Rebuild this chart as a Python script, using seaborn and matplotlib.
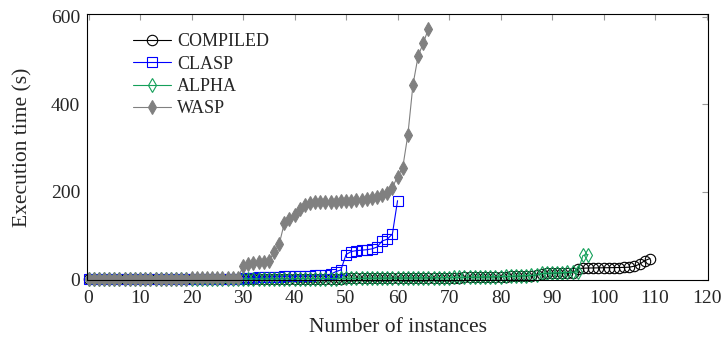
import numpy as np
import seaborn as sns
import matplotlib.pyplot as plt

# execution times (s), instances sorted by time
compiled = [0.2, 0.2, 0.3, 0.3, 0.3, 0.4, 0.4, 0.4, 0.5, 0.5,
            0.5, 0.6, 0.6, 0.6, 0.7, 0.7, 0.7, 0.8, 0.8, 0.9,
            0.9, 1.0, 1.0, 1.0, 1.1, 1.1, 1.2, 1.2, 1.3, 1.3,
            1.4, 1.4, 1.5, 1.5, 1.6, 1.6, 1.7, 1.7, 1.8, 1.8,
            1.9, 1.9, 2.0, 2.0, 2.1, 2.1, 2.2, 2.3, 2.3, 2.4,
            2.5, 2.5, 2.6, 2.7, 2.8, 2.8, 2.9, 3.0, 3.1, 3.2,
            3.3, 3.4, 3.5, 3.6, 3.7, 3.8, 3.9, 4.0, 4.1, 4.2,
            4.4, 4.5, 4.6, 4.8, 5.0, 5.1, 5.3, 5.5, 5.7, 6.0,
            6.3, 6.6, 7.0, 7.4, 7.8, 8.3, 8.8, 9.4,
            13.5, 14.0, 14.2, 14.5, 14.8, 15.0, 15.3,
            24.5, 26.0, 26.3, 26.5, 26.7, 26.9, 27.1, 27.3, 27.5, 27.8, 28.2,
            30.5, 35.0, 43.0, 48.0]

clasp = [0.4, 0.4, 0.5, 0.5, 0.5, 0.6, 0.6, 0.6, 0.7, 0.7,
         0.7, 0.8, 0.8, 0.8, 0.9, 0.9, 0.9, 1.0, 1.0, 1.0,
         1.1, 1.1, 1.1, 1.2, 1.2, 1.2, 1.3, 1.3, 1.4, 1.4,
         3.5, 4.0, 4.5, 5.0, 5.4, 5.8, 6.2, 6.6, 7.0, 7.4,
         7.8, 8.2, 8.6, 9.0, 9.5, 10.0, 11.0, 12.0,
         18.0, 22.0,
         57.0, 64.0, 66.0, 67.0, 68.0, 70.0, 74.0, 88.0, 92.0, 104.0,
         180.0]

alpha = [0.3, 0.3, 0.3, 0.4, 0.4, 0.4, 0.5, 0.5, 0.5, 0.6,
         0.6, 0.6, 0.7, 0.7, 0.7, 0.8, 0.8, 0.9, 0.9, 1.0,
         1.0, 1.0, 1.1, 1.1, 1.2, 1.2, 1.3, 1.3, 1.4, 1.4,
         1.5, 1.5, 1.6, 1.6, 1.7, 1.7, 1.8, 1.8, 1.9, 1.9,
         2.0, 2.0, 2.1, 2.1, 2.2, 2.2, 2.3, 2.4, 2.4, 2.5,
         2.6, 2.6, 2.7, 2.8, 2.9, 2.9, 3.0, 3.1, 3.2, 3.3,
         3.4, 3.5, 3.6, 3.7, 3.8, 3.9, 4.0, 4.1, 4.3, 4.4,
         4.5, 4.7, 4.8, 5.0, 5.2, 5.4, 5.6, 5.8, 6.1, 6.4,
         6.7, 7.1, 7.5, 7.9, 8.4, 9.0, 9.6, 10.3,
         14.0, 14.5, 15.0, 15.4, 15.8, 16.2, 16.6,
         17.5, 55.0, 57.0]

wasp = [0.8, 0.9, 1.0, 1.0, 1.1, 1.2, 1.2, 1.3, 1.4, 1.5,
        1.5, 1.6, 1.7, 1.8, 1.9, 2.0, 2.1, 2.2, 2.3, 2.4,
        2.5, 2.6, 2.7, 2.8, 2.9, 3.0, 3.1, 3.2, 3.4, 3.6,
        30.0, 36.0, 38.0, 39.0, 40.0, 42.0, 62.0, 80.0, 128.0, 138.0,
        148.0, 160.0, 170.0, 174.0, 176.0, 177.0, 177.0, 178.0, 178.0, 179.0,
        179.0, 180.0, 181.0, 182.0, 184.0, 186.0, 188.0, 192.0, 198.0, 210.0,
        235.0, 255.0, 330.0, 445.0, 510.0, 540.0, 572.0]

series = ['COMPILED', 'CLASP', 'ALPHA', 'WASP']
values = [compiled, clasp, alpha, wasp]
colors = ['black', '#0000ff', '#14a05a', '#808080']
markers = ['o', 's', 'd', 'd']
filled = [False, False, False, True]
msizes = [7.5, 7.5, 7, 7]

sns.set_theme(style='white')
plt.rcParams['font.family'] = ['Liberation Serif', 'DejaVu Serif']

fig = plt.figure(figsize=(7.24, 3.43), dpi=100)
ax = fig.add_axes([0.1202, 0.1837, 0.8578, 0.7755])

for name, vals, col, mk, fill, ms in zip(series, values, colors, markers, filled, msizes):
    sns.lineplot(x=np.arange(len(vals)), y=vals, ax=ax, color=col, marker=mk,
                 markersize=ms, markeredgecolor=col,
                 markerfacecolor=col if fill else 'none',
                 markeredgewidth=0.8, linewidth=0.8, clip_on=False, label=name)

ax.set_xlim(-0.3, 120.3)
ax.set_ylim(-1, 606)
ax.set_xticks(np.arange(0, 121, 10))
ax.set_yticks([0, 200, 400, 600])
ax.tick_params(direction='in', top=True, right=True, length=4, width=0.8,
               color='#999999', labelsize=14, pad=7)
ax.tick_params(axis='y', pad=5)
for sp in ax.spines.values():
    sp.set_color('black')
    sp.set_linewidth(0.8)

ax.set_xlabel('Number of instances', fontsize=15.5, labelpad=8)
ax.set_ylabel('Execution time (s)', fontsize=15.5, labelpad=13)

ax.legend(loc='upper left', bbox_to_anchor=(0.062, 0.955), frameon=False,
          fontsize=13, handlelength=2.1, labelspacing=0.3, handletextpad=0.35,
          borderaxespad=0)

fig.savefig('out.png', dpi=100)
